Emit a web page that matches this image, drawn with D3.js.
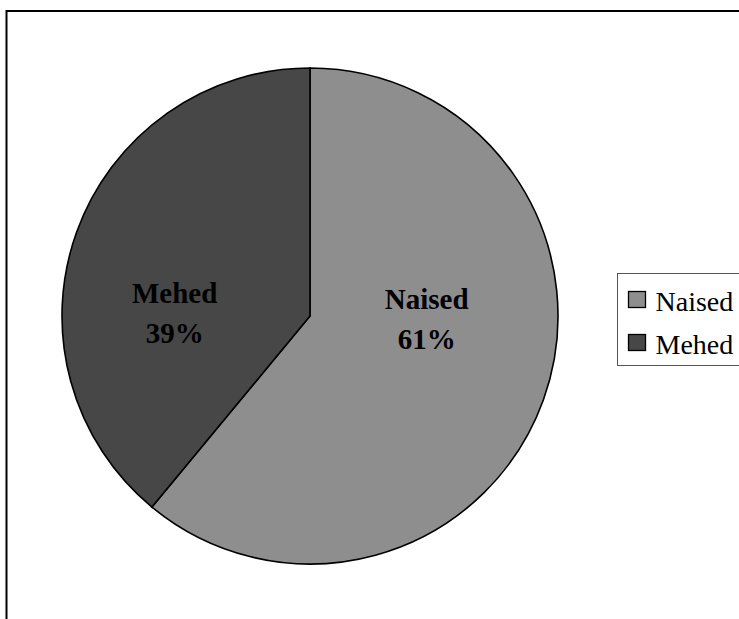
<!DOCTYPE html>
<html>
<head>
<meta charset="utf-8">
<script src="https://cdn.jsdelivr.net/npm/d3@7"></script>
<style>
  html, body { margin: 0; padding: 0; background: #fff; }
  svg { display: block; }
</style>
</head>
<body>
<svg id="chart" width="739" height="619"></svg>
<script>
// Share of respondents by gender
const categories = ["Naised", "Mehed"];
const values = [61, 39];
const colors = ["#8e8e8e", "#474747"];

const svg = d3.select("#chart");
const serif = "'Liberation Serif', 'Times New Roman', Times, serif";

// Chart frame (runs past the page's right and bottom edges)
svg.append("rect")
  .attr("x", 6.5).attr("y", 11)
  .attr("width", 800).attr("height", 700)
  .attr("fill", "#fff")
  .attr("stroke", "#000")
  .attr("stroke-width", 2);

const cx = 310, cy = 316, R = 248;

const pie = d3.pie().sort(null).value(d => d.value);
const arcs = pie(categories.map((c, i) => ({ name: c, value: values[i], color: colors[i] })));
const arc = d3.arc().innerRadius(0).outerRadius(R);

const g = svg.append("g").attr("transform", `translate(${cx},${cy})`);

g.selectAll("path.slice")
  .data(arcs)
  .enter().append("path")
  .attr("class", "slice")
  .attr("d", arc)
  .attr("fill", d => d.data.color)
  .attr("stroke", "#000")
  .attr("stroke-width", 1.6);

// Slice labels: horizontal position along the slice's mid-angle, bold serif
const labelPos = { "Naised": { k: 0.50, dy: -7 }, "Mehed": { k: 0.58, dy: -13 } };
const labels = g.selectAll("g.lbl")
  .data(arcs)
  .enter().append("g")
  .attr("class", "lbl")
  .attr("transform", d => {
    const mid = (d.startAngle + d.endAngle) / 2;
    const p = labelPos[d.data.name];
    return `translate(${Math.sin(mid) * R * p.k},${p.dy})`;
  });

labels.append("text")
  .attr("text-anchor", "middle").attr("y", 0)
  .style("font-family", serif).style("font-weight", "bold").style("font-size", "29px")
  .text(d => d.data.name);

labels.append("text")
  .attr("text-anchor", "middle").attr("y", 40)
  .style("font-family", serif).style("font-weight", "bold").style("font-size", "29px")
  .text(d => d.data.value + "%");

// Legend
const legend = svg.append("g").attr("transform", "translate(617.5,273.5)");
legend.append("rect")
  .attr("width", 140).attr("height", 92)
  .attr("fill", "#fff").attr("stroke", "#555").attr("stroke-width", 1);

const items = legend.selectAll("g.item")
  .data(arcs)
  .enter().append("g")
  .attr("class", "item")
  .attr("transform", (d, i) => `translate(11,${18 + i * 43})`);

items.append("rect")
  .attr("width", 17).attr("height", 16)
  .attr("fill", d => d.data.color)
  .attr("stroke", "#000").attr("stroke-width", 1.3);

items.append("text")
  .attr("x", 27).attr("y", 19)
  .style("font-family", serif).style("font-size", "28px")
  .text(d => d.data.name);
</script>
</body>
</html>
